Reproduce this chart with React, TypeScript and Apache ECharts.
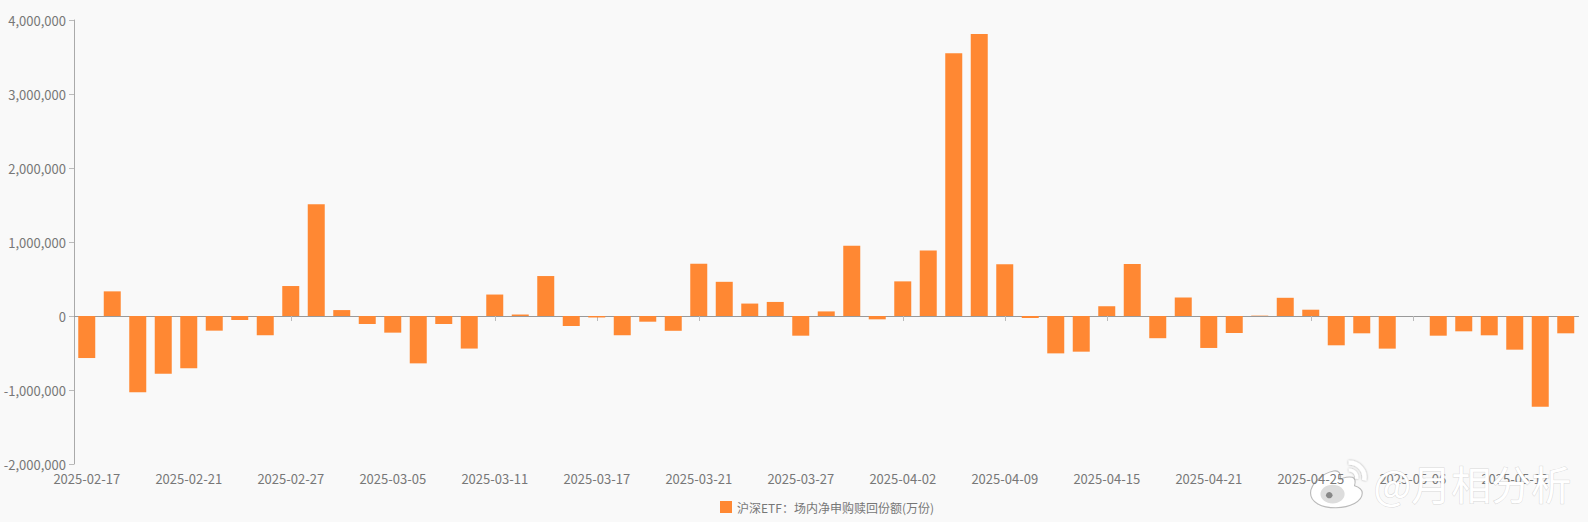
import React, { useEffect, useRef } from "react";
import * as echarts from "echarts";

const dates = [
  "2025-02-17","2025-02-18","2025-02-19","2025-02-20","2025-02-21","2025-02-24","2025-02-25","2025-02-26","2025-02-27","2025-02-28",
  "2025-03-03","2025-03-04","2025-03-05","2025-03-06","2025-03-07","2025-03-10","2025-03-11","2025-03-12","2025-03-13","2025-03-14",
  "2025-03-17","2025-03-18","2025-03-19","2025-03-20","2025-03-21","2025-03-24","2025-03-25","2025-03-26","2025-03-27","2025-03-28",
  "2025-03-31","2025-04-01","2025-04-02","2025-04-03","2025-04-07","2025-04-08","2025-04-09","2025-04-10","2025-04-11","2025-04-14",
  "2025-04-15","2025-04-16","2025-04-17","2025-04-18","2025-04-21","2025-04-22","2025-04-23","2025-04-24","2025-04-25","2025-04-28",
  "2025-04-29","2025-04-30","2025-05-06","2025-05-07","2025-05-08","2025-05-09","2025-05-12","2025-05-13","2025-05-14",
];
const seriesName = "沪深ETF：场内净申购赎回份额(万份)";
const netShares = [
  -568000, 333000, -1030000, -780000, -707000, -198000, -54000, -260000, 405000, 1510000,
  80000, -108000, -225000, -640000, -108000, -440000, 290000, 20000, 540000, -135000,
  -20000, -260000, -77000, -200000, 705000, 462000, 168000, 190000, -266000, 62000,
  950000, -45000, 468000, 885000, 3550000, 3810000, 700000, -27000, -505000, -482000,
  132000, 702000, -300000, 250000, -432000, -230000, 5000, 246000, 85000, -396000,
  -234000, -441000, 0, -266000, -207000, -261000, -455000, -1225000, -234000,
];
const watermark = "@月相分析";
const logoBody =
  "M22 12C12 14 1 24 1 33C1 42 11 47 24 47C37 47 48 41 48 33C48 29 44 27 41 26C42 22 42 19 39 18C36 17 31 18 28 20C29 15 27 11 22 12Z";

const FONT = '"Noto Sans CJK SC", "Noto Sans", sans-serif';

export default function App() {
  const ref = useRef<HTMLDivElement>(null);
  useEffect(() => {
    echarts.graphic.registerShape("weiboLogo", echarts.graphic.extendPath(logoBody, {}) as any);
    const chart = echarts.init(ref.current!, null, { renderer: "svg" });
    chart.setOption({
      animation: false,
      backgroundColor: "#f9f9f9",
      textStyle: { fontFamily: FONT },
      grid: { left: 74, right: 9.5, top: 20, bottom: 58, outerBoundsMode: "none" },
      legend: {
        show: true,
        top: 496,
        left: 715,
        itemWidth: 12,
        itemHeight: 12,
        itemGap: 5,
        icon: "rect",
        textStyle: { color: "#777", fontSize: 12, fontFamily: FONT },
        data: [seriesName],
      },
      xAxis: [
        {
          type: "category",
          data: dates,
          position: "bottom",
          axisLine: { show: false, onZero: false },
          axisTick: { show: false },
          axisLabel: { interval: 3, margin: 8, color: "#777", fontSize: 13, fontFamily: FONT },
        },
        {
          type: "category",
          data: dates,
          position: "bottom",
          axisLine: { show: true, onZero: true, lineStyle: { color: "#999", width: 1 } },
          axisTick: { show: true, alignWithLabel: true, interval: 3, length: 5, lineStyle: { color: "#bbb" } },
          axisLabel: { show: false },
        },
      ],
      yAxis: {
        type: "value",
        min: -2000000,
        max: 4000000,
        interval: 1000000,
        axisLine: { show: true, lineStyle: { color: "#aaa", width: 1 } },
        axisTick: { show: true, length: 5, lineStyle: { color: "#bbb" } },
        axisLabel: { color: "#777", fontSize: 13, margin: 8, fontFamily: FONT, padding: [0, 0, 6, 0],
          formatter: (v: number) => v.toLocaleString("en-US") },
        splitLine: { show: false },
      },
      series: [{
        name: seriesName,
        type: "bar",
        xAxisIndex: 0,
        data: netShares,
        barWidth: 17,
        itemStyle: { color: "#ff8833" },
      }],
      graphic: [
        {
          type: "text", left: 1373, top: 462, silent: true, z: 100,
          style: {
            text: watermark, font: `40px ${FONT}`, fill: "#ffffff",
            shadowColor: "rgba(0,0,0,0.45)", shadowBlur: 3,
            stroke: "rgba(150,150,150,0.35)", lineWidth: 1,
          },
        },
        {
          type: "group", left: 1310, top: 460, scaleX: 1.1, scaleY: 1.05, silent: true, z: 100,
          children: [
            { type: "weiboLogo", style: { fill: "#ffffff", stroke: "rgba(120,120,120,0.5)", lineWidth: 1 } },
            { type: "ellipse", shape: { cx: 21, cy: 34, rx: 11, ry: 9 },
              style: { fill: "#dddddd" } },
            { type: "circle", shape: { cx: 18, cy: 35, r: 3 }, style: { fill: "#888" } },
            { type: "arc", shape: { cx: 36, cy: 18, r: 14, startAngle: -1.6, endAngle: 0.2 },
              style: { stroke: "#ffffff", lineWidth: 4, fill: "none", shadowColor: "rgba(0,0,0,.4)", shadowBlur: 2 } },
            { type: "arc", shape: { cx: 36, cy: 18, r: 7, startAngle: -1.6, endAngle: 0.2 },
              style: { stroke: "#ffffff", lineWidth: 3, fill: "none", shadowColor: "rgba(0,0,0,.4)", shadowBlur: 2 } },
          ],
        },
      ],
    });
    return () => chart.dispose();
  }, []);
  return <div ref={ref} style={{ position: "fixed", left: 0, top: 0, width: 1588, height: 522 }} />;
}
